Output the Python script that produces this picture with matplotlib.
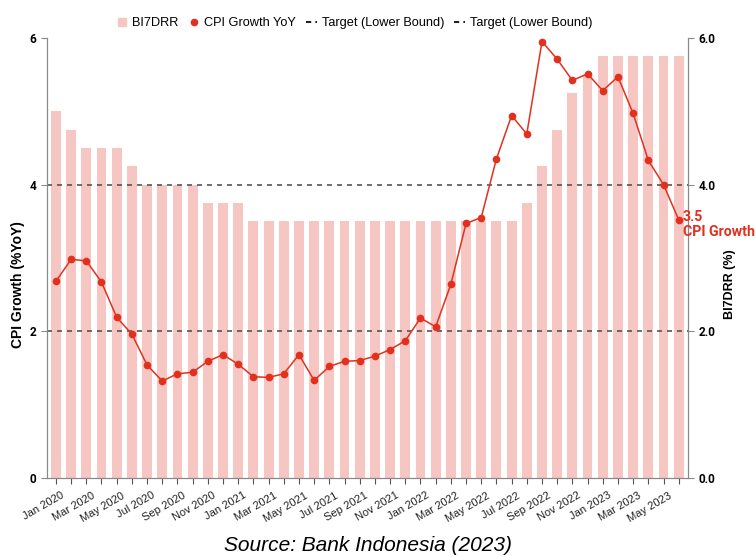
import matplotlib.pyplot as plt
import matplotlib.transforms as mtransforms
from matplotlib.lines import Line2D
import pandas as pd

months = pd.date_range("2020-01-01", "2023-06-01", freq="MS")
month_labels = [d.strftime("%b %Y") for d in months]

cpi_yoy = [2.68, 2.98, 2.96, 2.67, 2.19, 1.96, 1.54, 1.32, 1.42, 1.44, 1.59, 1.68,
           1.55, 1.38, 1.37, 1.42, 1.68, 1.33, 1.52, 1.59, 1.60, 1.66, 1.75, 1.87,
           2.18, 2.06, 2.64, 3.47, 3.55, 4.35, 4.94, 4.69, 5.95, 5.71, 5.42, 5.51,
           5.28, 5.47, 4.97, 4.33, 4.00, 3.52]
bi7drr = [5.00, 4.75, 4.50, 4.50, 4.50, 4.25, 4.00, 4.00, 4.00, 4.00, 3.75, 3.75,
          3.75, 3.50, 3.50, 3.50, 3.50, 3.50, 3.50, 3.50, 3.50, 3.50, 3.50, 3.50,
          3.50, 3.50, 3.50, 3.50, 3.50, 3.50, 3.50, 3.75, 4.25, 4.75, 5.25, 5.50,
          5.75, 5.75, 5.75, 5.75, 5.75, 5.75]
target_bounds = [2.0, 4.0]

bar_color = "#f6c6c3"
red = "#e2301f"
x = list(range(len(months)))

fig = plt.figure(figsize=(7.55, 5.57), dpi=100)
ax = fig.add_axes([0.062, 0.142, 0.849, 0.79])
ax2 = ax.twinx()

# bars on the right axis, drawn behind the CPI line
ax2.bar(x, bi7drr, width=0.65, color=bar_color, zorder=1)
ax2.set_ylim(0, 6)
ax2.set_yticks([0, 2, 4, 6])
ax2.set_yticklabels(["0.0", "2.0", "4.0", "6.0"], fontfamily="Roboto",
                    fontweight="bold", fontsize=8.5)
ax2.set_ylabel("BI7DRR (%)", fontsize=9, fontweight="bold",
               fontfamily="Liberation Sans")
ax2.yaxis.set_label_coords(1.056, 0.44)

ax.set_zorder(ax2.get_zorder() + 1)
ax.patch.set_visible(False)

ax.plot(x, cpi_yoy, color=red, marker="o", markersize=4.5, linewidth=1.1, zorder=3)
for b in target_bounds:
    ax.axhline(b, color="#555555", linewidth=1.2, dashes=(3, 3), zorder=2)

ax.set_xlim(-0.6, len(x) - 0.4)
ax.set_ylim(0, 6)
ax.set_yticks([0, 2, 4, 6])
ax.set_yticklabels(["0", "2", "4", "6"], fontfamily="Roboto", fontweight="bold",
                   fontsize=8.5)
ax.set_ylabel("CPI Growth (%YoY)", fontsize=10, fontweight="bold",
              fontfamily="Liberation Sans")
ax.yaxis.set_label_coords(-0.034, 0.44)

ax.set_xticks(x)
ax.set_xticklabels([lab if i % 2 == 0 else "" for i, lab in enumerate(month_labels)],
                   rotation=30, ha="right", rotation_mode="anchor", fontsize=8,
                   fontfamily="Liberation Sans", color="#222222")
ax.tick_params(axis="x", length=4, color="#555555", pad=5)
shift = mtransforms.ScaledTranslation(5 / 100, 0, fig.dpi_scale_trans)
for lab in ax.get_xticklabels():
    lab.set_transform(lab.get_transform() + shift)

for a in (ax, ax2):
    a.spines["top"].set_visible(False)
    for s in ("left", "right", "bottom"):
        a.spines[s].set_color("#888888")
    a.tick_params(axis="y", length=4, color="#888888")

# label for the latest CPI value
ax.annotate(f"{cpi_yoy[-1]:.1f}\nCPI Growth", xy=(x[-1], cpi_yoy[-1]),
            xytext=(3, 7), textcoords="offset points", ha="left", va="top",
            color=red, fontsize=10.2, fontweight="bold", fontfamily="Roboto",
            linespacing=1.1)

handles = [
    Line2D([], [], linestyle="none", marker="s", markersize=5.5, color=bar_color),
    Line2D([], [], linestyle="none", marker="o", markersize=4.5, color=red),
    Line2D([], [], color="#222222", linewidth=1.5, dashes=(2.5, 2)),
    Line2D([], [], color="#222222", linewidth=1.5, dashes=(2.5, 2)),
]
labels = ["BI7DRR", "CPI Growth YoY", "Target (Lower Bound)", "Target (Lower Bound)"]
fig.legend(handles, labels, loc="center", bbox_to_anchor=(0.4695, 0.958),
           ncol=4, frameon=False, handlelength=0.85, handletextpad=0.35,
           columnspacing=0.8, prop={"family": "Liberation Sans", "size": 9.2})

fig.text(0.487, 0.02, "Source: Bank Indonesia (2023)", ha="center", va="center",
         fontsize=15, fontstyle="italic", fontfamily="Liberation Sans")

fig.savefig("out.png", dpi=100)
